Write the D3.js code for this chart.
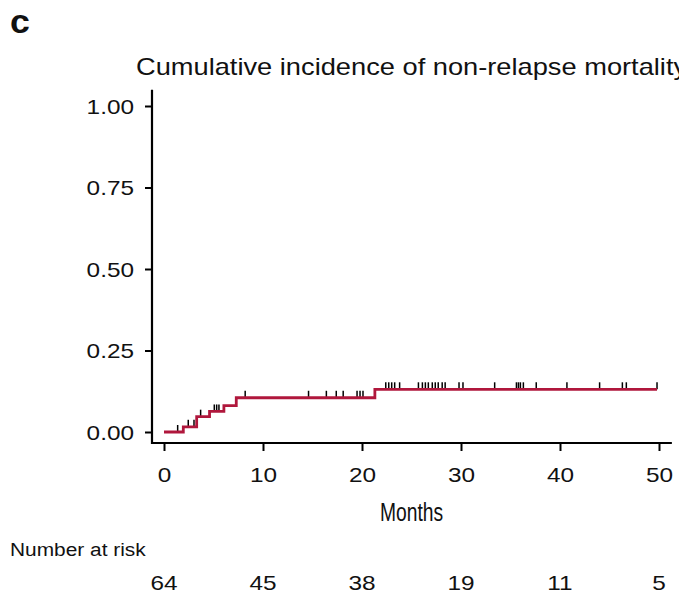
<!DOCTYPE html>
<html>
<head>
<meta charset="utf-8">
<script src="https://cdn.jsdelivr.net/npm/d3@7"></script>
<style>
  html, body { margin: 0; padding: 0; background: #ffffff; }
  svg { display: block; font-family: "Liberation Sans", Arial, Helvetica, sans-serif; }
</style>
</head>
<body>
<svg id="chart" width="679" height="599"></svg>
<script>
// Step function of cumulative incidence (time in months, value after the step)
const stepTimes  = [0, 1.95, 3.3, 4.6, 6.05, 7.3, 21.3];
const stepValues = [0, 0.016, 0.047, 0.063, 0.081, 0.105, 0.131];
const followUpEnd = 49.8;

// Censoring times (months)
const censorTimes = [1.38, 2.45, 3.03, 3.7, 5.08, 5.32, 5.55, 8.2, 14.6, 16.4, 17.4, 18.1,
  19.5, 19.8, 20.1, 22.4, 22.7, 23.0, 23.3, 23.8, 25.7, 26.1, 26.4, 26.7, 27.1, 27.4,
  27.7, 28.1, 28.4, 29.8, 30.2, 33.4, 35.6, 35.8, 36.0, 36.3, 37.6, 40.7, 44.0, 46.3,
  46.7, 49.8];

// Axis ticks and risk table
const xTicks = [0, 10, 20, 30, 40, 50];
const yTicks = [0, 0.25, 0.5, 0.75, 1.0];
const riskTimes = [0, 10, 20, 30, 40, 50];
const riskCounts = [64, 45, 38, 19, 11, 5];

const svg = d3.select("#chart");
const lineColor = "#b0173c";
const textColor = "#111";
const WIDE = 1.16;   // horizontal stretch of the lettering

const x = d3.scaleLinear().domain([0, 50]).range([164, 659]);
const y = d3.scaleLinear().domain([0, 1]).range([432, 106]);

// Text placed at (px, py) and stretched horizontally by sx
function label(parent, px, py, str, size, sx, anchor, extra) {
  const t = parent.append("text")
    .attr("transform", `translate(${px},${py}) scale(${sx},1)`)
    .attr("font-size", size).attr("fill", textColor)
    .attr("text-anchor", anchor || "start")
    .text(str);
  if (extra) extra(t);
  return t;
}

// Panel letter and title
label(svg, 10, 33, "c", 34, 1.05, "start", t => t.attr("font-weight", "bold"));
label(svg, 136, 75, "Cumulative incidence of non-relapse mortality", 23, 1.185);

// Y axis
const yAxis = d3.axisLeft(y).tickValues(yTicks).tickFormat(d3.format(".2f"))
  .tickSizeOuter(0).tickSize(7).tickPadding(11);
const gy = svg.append("g").attr("transform", "translate(152,0)").call(yAxis);
gy.select(".domain").remove();
gy.selectAll(".tick line").attr("stroke", "#000").attr("stroke-width", 2);
gy.selectAll(".tick text")
  .attr("font-size", 21).attr("fill", textColor)
  .attr("font-family", "'Liberation Sans', Arial, sans-serif")
  .attr("x", -18 / WIDE).attr("dy", "0.35em")
  .attr("transform", `scale(${WIDE},1)`);
svg.append("line").attr("x1", 152).attr("x2", 152)
  .attr("y1", y(1.05)).attr("y2", 444)
  .attr("stroke", "#000").attr("stroke-width", 2.2);

// X axis
const xAxis = d3.axisBottom(x).tickValues(xTicks).tickFormat(d3.format("d"))
  .tickSizeOuter(0).tickSize(8).tickPadding(16);
const gx = svg.append("g").attr("transform", "translate(0,443)").call(xAxis);
gx.select(".domain").remove();
gx.selectAll(".tick line").attr("stroke", "#000").attr("stroke-width", 2);
gx.selectAll(".tick text")
  .attr("font-size", 21).attr("fill", textColor)
  .attr("font-family", "'Liberation Sans', Arial, sans-serif")
  .attr("transform", `scale(${WIDE},1)`);
svg.append("line").attr("x1", 151).attr("x2", x(51.3))
  .attr("y1", 443).attr("y2", 443)
  .attr("stroke", "#000").attr("stroke-width", 2.2);

// Axis title in a narrow cut
label(svg, x(25), 521, "Months", 25, 0.77, "middle");

// Censoring marks drawn upward from the curve
const valueAt = t => {
  let v = 0;
  for (let i = 0; i < stepTimes.length; i++) if (stepTimes[i] <= t) v = stepValues[i];
  return v;
};
svg.append("g").selectAll("line").data(censorTimes).join("line")
  .attr("x1", d => x(d)).attr("x2", d => x(d))
  .attr("y1", d => y(valueAt(d)) - 7).attr("y2", d => y(valueAt(d)))
  .attr("stroke", "#000").attr("stroke-width", 1.5);

// Cumulative incidence curve
const pts = stepTimes.map((t, i) => [t, stepValues[i]]);
pts.push([followUpEnd, stepValues[stepValues.length - 1]]);
const line = d3.line().x(d => x(d[0])).y(d => y(d[1])).curve(d3.curveStepAfter);
svg.append("path").datum(pts).attr("d", line)
  .attr("fill", "none").attr("stroke", lineColor).attr("stroke-width", 2.8);

// Number at risk table
label(svg, 10, 556, "Number at risk", 18, WIDE);
const risk = svg.append("g");
riskTimes.forEach((t, i) => label(risk, x(t), 590, String(riskCounts[i]), 21, WIDE, "middle"));
</script>
</body>
</html>
